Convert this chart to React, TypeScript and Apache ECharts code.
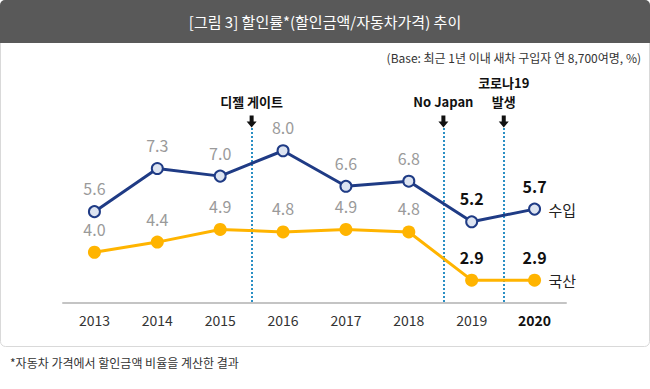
import React, { useEffect, useRef } from "react";
import * as echarts from "echarts";

const years = ["2013", "2014", "2015", "2016", "2017", "2018", "2019", "2020"];
const imported = [5.6, 7.3, 7.0, 8.0, 6.6, 6.8, 5.2, 5.7];
const domestic = [4.0, 4.4, 4.9, 4.8, 4.9, 4.8, 2.9, 2.9];
const highlightFrom = 6;
const events = [
  { name: "디젤 게이트", at: 3 },
  { name: "No Japan", at: 6.05 },
  { name: "코로나19\n발생", at: 7.01 },
];
const eventLineTop = 8.9;
const eventArrowY = 9.15;

const FONT = "'Noto Sans CJK KR', 'Noto Sans', sans-serif";

function makeData(vals: number[]) {
  return vals.map((v, i) =>
    i >= highlightFrom
      ? { value: v, label: { color: "#111", fontWeight: "bold" as const } }
      : { value: v }
  );
}

export default function App() {
  const ref = useRef<HTMLDivElement>(null);
  useEffect(() => {
    if (!ref.current) return;
    const chart = echarts.init(ref.current, null, { renderer: "svg" });
    const pointLabel = {
      show: true,
      position: "top" as const,
      distance: 9,
      fontSize: 16,
      color: "#9a9a9a",
      fontFamily: FONT,
      formatter: (p: any) => Number(p.value).toFixed(1),
    };
    chart.setOption({
      animation: false,
      textStyle: { fontFamily: FONT },
      graphic: [
        {
          type: "rect",
          shape: { x: 0.5, y: 0.5, width: 649, height: 346, r: 5 },
          style: { fill: "#fff", stroke: "#d9d9d9", lineWidth: 1 },
          z: -10,
        },
        {
          type: "rect",
          shape: { x: 0, y: 0, width: 650, height: 43, r: [5, 5, 0, 0] },
          style: { fill: "#595959" },
          z: -5,
        },
        {
          type: "text",
          x: 325,
          y: 21,
          style: {
            text: "[그림 3] 할인률*(할인금액/자동차가격) 추이",
            fill: "#fff",
            fontSize: 15,
            fontFamily: FONT,
            align: "center",
            verticalAlign: "middle",
          },
        },
        {
          type: "text",
          x: 641,
          y: 57,
          style: {
            text: "(Base: 최근 1년 이내 새차 구입자 연 8,700여명, %)",
            fill: "#333",
            fontSize: 12,
            fontFamily: FONT,
            align: "right",
            verticalAlign: "middle",
          },
        },
        {
          type: "text",
          x: 10,
          y: 362,
          style: {
            text: "*자동차 가격에서 할인금액 비율을 계산한 결과",
            fill: "#333",
            fontSize: 12,
            fontFamily: FONT,
            align: "left",
            verticalAlign: "middle",
          },
        },
      ],
      grid: { left: 63, right: 84, top: 100, bottom: 86, outerBoundsMode: "none" },
      xAxis: [
        {
          type: "category",
          data: years.map((y, i) =>
            i === years.length - 1 ? { value: y, textStyle: { fontWeight: "bold", color: "#111" } } : y
          ),
          boundaryGap: true,
          axisLine: { lineStyle: { color: "#c4c4c4", width: 2 } },
          axisTick: { show: false },
          axisLabel: { fontSize: 14, color: "#333", margin: 10, fontFamily: FONT },
        },
        { type: "value", min: 0, max: 8, show: false },
      ],
      yAxis: { type: "value", min: 2, max: 10, show: false, splitLine: { show: false } },
      series: [
        {
          name: "수입",
          type: "line",
          data: makeData(imported),
          symbol: "circle",
          symbolSize: 11,
          lineStyle: { color: "#1f3b85", width: 3 },
          itemStyle: { color: "#dde4f1", borderColor: "#1f3b85", borderWidth: 2 },
          label: pointLabel,
          endLabel: {
            show: true,
            formatter: "{a}",
            distance: 14,
            fontSize: 15,
            color: "#222",
            fontFamily: FONT,
          },
          z: 5,
        },
        {
          name: "국산",
          type: "line",
          data: makeData(domestic),
          symbol: "circle",
          symbolSize: 13,
          lineStyle: { color: "#ffb400", width: 3 },
          itemStyle: { color: "#ffb400" },
          label: pointLabel,
          endLabel: {
            show: true,
            formatter: "{a}",
            distance: 14,
            fontSize: 15,
            color: "#222",
            fontFamily: FONT,
          },
          z: 5,
        },
        {
          name: "events",
          type: "scatter",
          xAxisIndex: 1,
          data: [],
          silent: true,
          markLine: {
            silent: true,
            symbol: ["none", "none"],
            label: { show: false },
            lineStyle: { color: "#2b8fc4", type: [2, 2], width: 2 },
            data: events.map((e) => [
              { coord: [e.at, eventLineTop] },
              { coord: [e.at, 2] },
            ]),
          },
          markPoint: {
            silent: true,
            symbol: "path://M3,0 L7,0 L7,6 L10,6 L5,12 L0,6 L3,6 Z",
            symbolSize: [10, 12],
            itemStyle: { color: "#111" },
            label: {
              show: true,
              position: "top",
              distance: 5,
              formatter: "{b}",
              fontSize: 13,
              fontWeight: "bold",
              color: "#111",
              lineHeight: 19,
              fontFamily: FONT,
            },
            data: events.map((e) => ({ name: e.name, coord: [e.at, eventArrowY] })),
          },
          z: 3,
        },
      ],
    });
    return () => chart.dispose();
  }, []);
  return (
    <div
      ref={ref}
      style={{ position: "absolute", left: 0, top: 0, width: 650, height: 389, background: "#fff" }}
    />
  );
}
